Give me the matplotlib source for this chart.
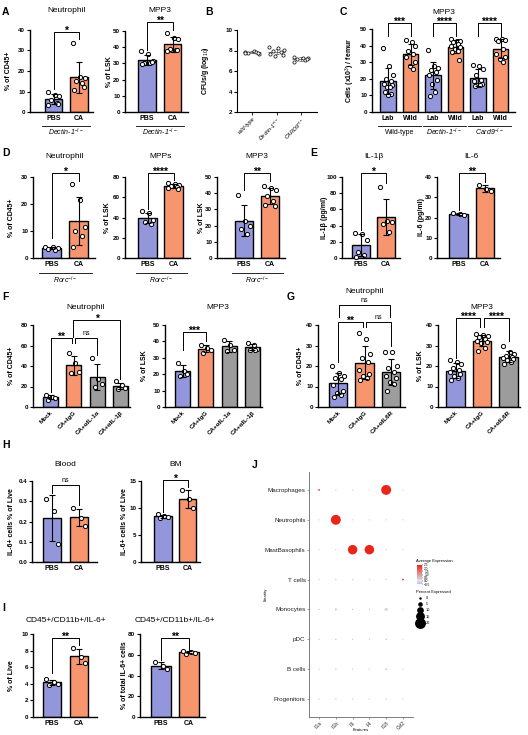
import numpy as np
import matplotlib
matplotlib.use("Agg")
import matplotlib.pyplot as plt
import matplotlib.transforms as mtransforms
from matplotlib.colors import LinearSegmentedColormap

plt.rcParams["font.family"] = ["Liberation Sans", "DejaVu Sans"]
plt.rcParams["mathtext.fontset"] = "custom"
plt.rcParams["mathtext.rm"] = "Liberation Sans"
plt.rcParams["mathtext.it"] = "Liberation Sans:italic"
plt.rcParams["mathtext.bf"] = "Liberation Sans:bold"

BLUE = "#9396db"
ORANGE = "#f6956e"
GREY = "#9c9c9c"

DECTIN = r"Dectin-1$^{-/-}$"
CARD9 = r"Card9$^{-/-}$"
RORC = r"Rorc$^{-/-}$"

# ---- data ----
# A
a_neut_pbs = [9.8, 8.5, 7.9, 6.0, 4.5, 3.2, 4.0]
a_neut_ca = [33.5, 17, 16.5, 15, 14, 10.5, 12]
a_mpp3_pbs = [37.5, 36, 31.5, 30.5, 30, 29.5, 31]
a_mpp3_ca = [49, 45.5, 45, 39, 38, 37.5, 38]
# B
b_labels = ["wild-type", r"Dectin-1$^{-/-}$", r"CARD9$^{-/-}$"]
b_wt = [7.9, 8.0, 7.7, 7.8, 7.85, 7.75, 7.8]
b_dectin = [8.3, 8.2, 8.05, 7.95, 7.9, 7.7, 7.6, 7.5]
b_card9 = [7.35, 7.3, 7.25, 7.2, 7.1, 6.85, 7.2]
# C
c_labels = ["Lab", "Wild"] * 3
c_groups_names = ["Wild-type", DECTIN, CARD9]
c_lab_wt = [38.5, 27.5, 22, 20, 18.5, 17, 16, 15, 15, 12, 11, 10.5]
c_wild_wt = [43.5, 42, 40, 37, 35, 33, 30, 27.5, 26]
c_lab_dectin = [37.5, 27.5, 26.5, 25.5, 24, 22, 19.5, 17, 12, 9.5]
c_wild_dectin = [44, 43, 42.5, 42, 41, 40, 39, 38, 37, 36, 31.5]
c_lab_card9 = [28.5, 27.5, 26, 22, 19, 18.5, 17, 16.5, 16, 15.5]
c_wild_card9 = [44, 44, 43.5, 43, 38, 35, 33, 32, 30]
# D
d_neut_pbs = [4.2, 3.9, 3.6, 3.4, 3.1]
d_neut_ca = [27.4, 21.5, 11.5, 10, 8, 4.2]
d_mpps_pbs = [46, 44, 38, 36, 34]
d_mpps_ca = [74.5, 73, 72, 71.5, 70.5, 69, 68.5]
d_mpp3_pbs = [39, 23, 20, 18, 15]
d_mpp3_ca = [44.5, 43.5, 42, 38, 35, 33, 32]
# E
e_il1b_pbs = [31, 30, 22, 8, 4, 1]
e_il1b_ca = [88, 46, 45, 42, 32]
e_il6_pbs = [22, 21.5, 21]
e_il6_ca = [36, 34, 33]
# F
f_labels = ["Mock", "CA+IgG", "CA+αIL-1α", "CA+αIL-1β"]
f_neut = [[12, 10, 9, 7], [53, 43, 34, 33], [48, 27, 22, 20], [25, 21, 19, 18]]
f_mpp3 = [[27, 22, 20, 19], [38, 36, 35, 33], [41, 38, 35, 34], [39, 38, 35.5, 35, 35]]
# G
g_labels = ["Mock", "CA+IgG", "CA+αIL6R"]
g_neut = [[20, 16.5, 15, 14, 13.5, 10.5, 8, 7, 6, 5],
          [36, 33, 26, 24, 22, 18, 16, 15, 14, 13],
          [27, 27, 20, 19, 17, 15, 14, 12, 11, 8]]
g_mpp3 = [[23, 22, 21, 19, 18, 17, 16, 15, 14, 13],
          [35.5, 35, 34.5, 34, 33, 32, 31.5, 31, 29, 27.5],
          [30, 27, 26, 25, 24.5, 24, 23.5, 23, 22, 21]]
# H
h_blood_pbs = [0.31, 0.25, 0.09]
h_blood_ca = [0.265, 0.215, 0.18]
h_bm_pbs = [8.8, 8.5, 8.4, 8.2]
h_bm_ca = [13.3, 11.6, 10.0]
# I
i_live_pbs = [4.6, 4.2, 4.0, 3.9]
i_live_ca = [8.3, 7.2, 6.5]
i_total_pbs = [53, 49, 46]
i_total_ca = [63.5, 63, 62, 61]
# J
j_cells = ["Macrophages", "Neutrophils", "MastBasophils", "T cells",
           "Monocytes", "pDC", "B cells", "Progenitors"]
j_features = ["Il1a", "Il1b", "Il6", "Il4", "Il18", "Csf2"]
j_pct = [[1.5, 0.5, 0.3, 0.3, 21, 0.3],
         [0.3, 21, 0.3, 0.3, 1.0, 0.3],
         [0.3, 0.5, 20, 20, 0.8, 0.3],
         [0.5, 1.2, 0.5, 0.5, 0.8, 1.5],
         [0.8, 2.0, 0.8, 0.8, 5.0, 0.5],
         [0.5, 1.0, 0.8, 0.5, 1.5, 0.3],
         [0.5, 1.0, 0.5, 0.5, 1.8, 0.5],
         [0.5, 1.0, 0.5, 0.5, 1.0, 0.5]]
j_avg = [[2.5, -0.3, -0.3, -0.3, 2.5, -0.3],
         [-0.3, 2.5, -0.3, -0.3, 0.0, -0.3],
         [-0.3, -0.3, 2.5, 2.5, -0.2, -0.3],
         [-0.3, -0.2, -0.3, -0.3, -0.2, 2.5],
         [-0.3, -0.5, -0.3, -0.3, 0.2, -0.3],
         [-0.3, -0.3, -0.3, -0.3, -0.3, -0.3],
         [-0.3, -0.3, -0.3, -0.3, -0.4, -0.3],
         [-0.3, -0.3, -0.3, -0.3, -0.3, -0.3]]
j_size_levels = [0, 5, 10, 15, 20]

W, H = 528, 735
fig = plt.figure(figsize=(W / 100, H / 100), dpi=100)
fig.patch.set_facecolor("white")

JITTER = np.array([-1, 0.25, 1, -0.5, 0.6, -0.9, 0.85, -0.2, 0.45, -0.7, 0.7, 0.0])


def spread(n, w=0.22):
    return JITTER[:n] * w


def px_ax(spine, top, bottom, right):
    return fig.add_axes([spine / W, 1 - bottom / H, (right - spine) / W, (bottom - top) / H])


def style_axis(ax, yticks, fmt=None):
    for s in ["top", "right"]:
        ax.spines[s].set_visible(False)
    for s in ["left", "bottom"]:
        ax.spines[s].set_linewidth(1.0)
    ax.set_yticks(yticks)
    if fmt:
        ax.set_yticklabels([fmt.format(t) for t in yticks])
    ax.tick_params(axis="y", length=2.5, width=0.8, pad=1, labelsize=4.5)
    ax.tick_params(axis="x", length=0, pad=2, labelsize=5)
    for lbl in ax.get_yticklabels():
        lbl.set_fontweight("bold")


def bracket(ax, x0, x1, y, y0, y1, text):
    ax.plot([x0, x0, x1, x1], [y0, y, y, y1], color="black", lw=0.7, clip_on=False, zorder=5)
    if text == "ns":
        ax.annotate(text, ((x0 + x1) / 2, y), xytext=(0, 0.6), textcoords="offset points",
                    ha="center", va="bottom", fontsize=5, annotation_clip=False)
    else:
        ax.annotate(text, ((x0 + x1) / 2, y), xytext=(0, -1.4), textcoords="offset points",
                    ha="center", va="baseline", fontsize=7.5, fontweight="bold",
                    annotation_clip=False)


def group_label(ax, x0, x1, geom, line_y, text_y, text, italic=True):
    spine, top, bottom = geom[:3]
    f = lambda y: (bottom - y) / (bottom - top)
    tr = mtransforms.blended_transform_factory(ax.transData, ax.transAxes)
    ax.plot([x0, x1], [f(line_y), f(line_y)], color="black", lw=0.6, transform=tr, clip_on=False)
    ax.text((x0 + x1) / 2, f(text_y), text, transform=tr, ha="center", va="center",
            fontsize=5, style="italic" if italic else "normal")


def bar_panel(geom, groups, colors, ylim, yticks, xlabels, ylabel, ylabel_x,
              title=None, title_y=None, brackets=(), width=0.7, rotate=False, fmt=None):
    spine, top, bottom, right, c0, sp = geom
    ax = px_ax(spine, top, bottom, right)
    x = np.arange(len(groups))
    means = [np.mean(g) for g in groups]
    sds = [np.std(g, ddof=1) for g in groups]
    ax.bar(x, means, width=width, color=colors, edgecolor="black", linewidth=1.0, zorder=2)
    ax.errorbar(x, means, yerr=sds, fmt="none", ecolor="black", elinewidth=0.8,
                capsize=2.5, capthick=0.8, zorder=4)
    for i, g in enumerate(groups):
        ax.plot(i + spread(len(g), width * 0.32), g, "o", ms=3, mfc="white", mec="black",
                mew=0.7, zorder=3, clip_on=False)
    ax.set_xlim((spine - c0) / sp, (right - c0) / sp)
    ax.set_ylim(*ylim)
    style_axis(ax, yticks, fmt)
    ax.set_xticks(x)
    if rotate:
        ax.set_xticklabels(xlabels, rotation=45, ha="right", rotation_mode="anchor",
                           fontsize=4.5, fontweight="bold")
    else:
        ax.set_xticklabels(xlabels, fontweight="bold")
    ax.set_ylabel(ylabel, fontsize=5, fontweight="bold")
    ax.yaxis.set_label_coords((ylabel_x - spine) / (right - spine), 0.5)
    if title:
        tr = mtransforms.blended_transform_factory(ax.transData, ax.transAxes)
        ax.text(np.mean(x), (bottom - title_y) / (bottom - top), title, transform=tr,
                ha="center", va="center", fontsize=6)
    for b in brackets:
        bracket(ax, *b)
    return ax


def letter(x, y, s):
    fig.text(x / W, 1 - y / H, s, fontsize=7.5, fontweight="bold", ha="left", va="center")


# ---------------- A ----------------
letter(2, 12, "A")
g = (30, 30, 112, 93, 53.5, 25.5)
ax = bar_panel(g, [a_neut_pbs, a_neut_ca], [BLUE, ORANGE], (0, 40), [0, 10, 20, 30, 40],
               ["PBS", "CA"], "% of CD45+", 12, "Neutrophil", 10,
               [(0, 1, 39, 11, 35.5, "*")])
group_label(ax, -0.45, 1.45, g, 126, 132, DECTIN)
g = (125, 31, 112, 188, 147, 25.5)
ax = bar_panel(g, [a_mpp3_pbs, a_mpp3_ca], [BLUE, ORANGE], (0, 50), [0, 10, 20, 30, 40, 50],
               ["PBS", "CA"], "% of LSK", 113, "MPP3", 10,
               [(0, 1, 55.5, 38.5, 50.5, "**")])
group_label(ax, -0.45, 1.45, g, 126, 132, DECTIN)

# ---------------- B ----------------
letter(205, 12, "B")
ax = px_ax(237, 30, 112, 317)
for i, vals in enumerate([b_wt, b_dectin, b_card9]):
    m, s = np.mean(vals), np.std(vals, ddof=1)
    ax.plot(i + spread(len(vals), 0.3), vals, "o", ms=2.3, mfc="white", mec="black", mew=0.5, zorder=3)
    ax.hlines(m, i - 0.35, i + 0.35, color="#555555", lw=0.5, zorder=2)
    ax.errorbar(i, m, yerr=s, fmt="none", ecolor="#555555", elinewidth=0.5, capsize=1.5,
                capthick=0.5, zorder=2)
ax.set_xlim((237 - 252) / 24.5, (317 - 252) / 24.5)
ax.set_ylim(2, 10)
style_axis(ax, [2, 4, 6, 8, 10])
ax.spines["left"].set_linewidth(0.8)
ax.spines["bottom"].set_linewidth(0.8)
ax.set_xticks(range(3))
ax.set_xticklabels(b_labels, rotation=45, ha="right", rotation_mode="anchor", fontsize=4,
                   style="italic")
ax.tick_params(axis="x", length=2, width=0.6, pad=1)
ax.set_ylabel(r"CFUs/g (log$_{10}$)", fontsize=5, fontweight="bold")
ax.yaxis.set_label_coords((211 - 237) / 80, 0.5)

# ---------------- C ----------------
letter(340, 12, "C")
g = (372, 29, 112, 515, 388, 22.5)
ax = bar_panel(g, [c_lab_wt, c_wild_wt, c_lab_dectin, c_wild_dectin, c_lab_card9, c_wild_card9],
               [BLUE, ORANGE] * 3, (0, 50), [0, 10, 20, 30, 40, 50], c_labels,
               r"Cells (x10$^{3}$) / femur", 357, "MPP3", 12,
               [(0, 1, 53.6, 46, 46, "***"), (2, 3, 53.6, 46, 46, "****"),
                (4, 5, 53.6, 46, 46, "****")], width=0.68)
for k, name in enumerate(c_groups_names):
    group_label(ax, 2 * k - 0.45, 2 * k + 1.45, g, 126, 132, name, italic=(k > 0))

# ---------------- D ----------------
letter(2, 153, "D")
g = (33, 177, 258, 95, 51.5, 27)
ax = bar_panel(g, [d_neut_pbs, d_neut_ca], [BLUE, ORANGE], (0, 30), [0, 10, 20, 30],
               ["PBS", "CA"], "% of CD45+", 15, "Neutrophil", 157,
               [(0, 1, 31.5, 7.4, 28.5, "*")])
group_label(ax, -0.45, 1.5, g, 273, 280, RORC)
g = (125, 177, 258, 190, 147.5, 26)
ax = bar_panel(g, [d_mpps_pbs, d_mpps_ca], [BLUE, ORANGE], (0, 80), [0, 20, 40, 60, 80],
               ["PBS", "CA"], "% of LSK", 111, "MPPs", 157,
               [(0, 1, 84, 48.5, 77, "****")])
group_label(ax, -0.45, 1.5, g, 273, 280, RORC)
g = (217, 177, 258, 285, 244, 26)
ax = bar_panel(g, [d_mpp3_pbs, d_mpp3_ca], [BLUE, ORANGE], (0, 50), [0, 10, 20, 30, 40, 50],
               ["PBS", "CA"], "% of LSK", 205, "MPP3", 157,
               [(0, 1, 52.5, 42, 47.5, "**")])
group_label(ax, -0.45, 1.5, g, 273, 280, RORC)

# ---------------- E ----------------
letter(310, 153, "E")
g = (342, 177, 258, 400, 361, 25)
bar_panel(g, [e_il1b_pbs, e_il1b_ca], [BLUE, ORANGE], (0, 100), [0, 20, 40, 60, 80, 100],
          ["PBS", "CA"], "IL-1β (pg/ml)", 328, "IL-1β", 157,
          [(0, 1, 105, 34.5, 93, "*")])
g = (437, 177, 258, 500, 458.5, 26.5)
bar_panel(g, [e_il6_pbs, e_il6_ca], [BLUE, ORANGE], (0, 40), [0, 10, 20, 30, 40],
          ["PBS", "CA"], "IL-6 (pg/ml)", 425, "IL-6", 157,
          [(0, 1, 42, 23.6, 37.5, "**")])

# ---------------- F ----------------
letter(2, 297, "F")
g = (33, 325, 407, 130, 50.5, 23.3)
bar_panel(g, f_neut, [BLUE, ORANGE, GREY, GREY], (0, 80), [0, 20, 40, 60, 80],
          f_labels, "% of CD45+", 15, "Neutrophil", 307,
          [(0, 0.93, 67, 14.6, 62, "**"), (1.07, 2, 67, 62, 51, "ns"),
           (0.97, 3, 85, 68, 27, "*")], width=0.65, rotate=True)
g = (165, 325, 407, 262, 182.5, 23.3)
bar_panel(g, f_mpp3, [BLUE, ORANGE, GREY, GREY], (0, 50), [0, 10, 20, 30, 40, 50],
          f_labels, "% of LSK", 148, "MPP3", 307,
          [(0, 1, 46, 35, 40, "***")], width=0.65, rotate=True)

# ---------------- G ----------------
letter(287, 297, "G")
g = (318, 325, 407, 405, 338, 26.5)
bar_panel(g, g_neut, [BLUE, ORANGE, GREY], (0, 40), [0, 10, 20, 30, 40],
          g_labels, "% of CD45+", 304, "Neutrophil", 291,
          [(0, 0.93, 41.6, 22, 39, "**"), (1.07, 2, 41.6, 39, 30, "ns"),
           (0.05, 1.97, 50, 44, 44, "ns")], width=0.68, rotate=True)
g = (438, 325, 407, 520, 455.5, 26.5)
bar_panel(g, g_mpp3, [BLUE, ORANGE, GREY], (0, 40), [0, 10, 20, 30, 40],
          g_labels, "% of LSK", 424, "MPP3", 307,
          [(0, 0.93, 43.4, 24, 39, "****"), (1.07, 2, 43.4, 39, 32, "****")],
          width=0.68, rotate=True)

# ---------------- H ----------------
letter(2, 445, "H")
g = (32, 481, 562, 97, 52, 27)
bar_panel(g, [h_blood_pbs, h_blood_ca], [BLUE, ORANGE], (0, 0.4), [0, 0.1, 0.2, 0.3, 0.4],
          ["PBS", "CA"], "IL-6+ cells % of Live", 15, "Blood", 465,
          [(0, 1, 0.38, 0.34, 0.28, "ns")], fmt="{:.1f}")
g = (141, 481, 562, 200, 163, 24.5)
bar_panel(g, [h_bm_pbs, h_bm_ca], [BLUE, ORANGE], (0, 15), [0, 5, 10, 15],
          ["PBS", "CA"], "IL-6+ cells % of Live", 128, "BM", 465,
          [(0, 1, 15.2, 9.3, 13.9, "*")])

# ---------------- I ----------------
letter(2, 608, "I")
g = (33, 634, 717, 97, 52, 27)
bar_panel(g, [i_live_pbs, i_live_ca], [BLUE, ORANGE], (0, 10), [0, 2, 4, 6, 8, 10],
          ["PBS", "CA"], "% of Live", 15, "CD45+/CD11b+/IL-6+", 620,
          [(0, 1, 9.5, 5.3, 8.7, "**")])
g = (140, 634, 717, 205, 161, 28)
bar_panel(g, [i_total_pbs, i_total_ca], [BLUE, ORANGE], (0, 80), [0, 20, 40, 60, 80],
          ["PBS", "CA"], "% of total IL-6+ cells", 128, "CD45+/CD11b+/IL-6+", 620,
          [(0, 1, 76, 55, 64.5, "**")])

# ---------------- J ----------------
letter(252, 465, "J")
ax = px_ax(309, 472, 717, 413)
cmap = LinearSegmentedColormap.from_list(
    "avgexp", [(0.0, "#c6b9ef"), (0.17, "#e4e0ea"), (1.0, "#e8271a")])


def dot_size(p):
    d_px = 0.42 * p + 1.1
    return (d_px * 0.72) ** 2


nrow = len(j_cells)
xs, ys, ss, cs = [], [], [], []
for r, cell in enumerate(j_cells):
    for c, feat in enumerate(j_features):
        xs.append(c + 1)
        ys.append(nrow - r)
        ss.append(dot_size(j_pct[r][c]))
        cs.append(j_avg[r][c])
sc = ax.scatter(xs, ys, s=ss, c=cs, cmap=cmap, vmin=-0.5, vmax=2.5, linewidths=0, zorder=3)
ax.set_xlim(0.4, 6.6)
ax.set_ylim(0.4, nrow + 0.6)
ax.set_yticks(range(nrow, 0, -1))
ax.set_yticklabels(j_cells, fontsize=4.5, color="#222222")
ax.set_xticks(range(1, 7))
ax.set_xticklabels(j_features, rotation=45, ha="right", rotation_mode="anchor",
                   fontsize=3.5, color="#222222")
ax.tick_params(length=1.5, width=0.4, color="#555555", pad=1)
for s in ["top", "right"]:
    ax.spines[s].set_visible(False)
for s in ["left", "bottom"]:
    ax.spines[s].set_linewidth(0.6)
    ax.spines[s].set_color("#666666")
ax.set_ylabel("Identity", fontsize=3)
ax.yaxis.set_label_coords((268 - 309) / 104, 0.5)
ax.text(0.5, (717 - 730) / 245, "Features", transform=ax.transAxes, fontsize=3,
        ha="center", va="center")

fig.text(416 / W, 1 - 561 / H, "Average Expression", fontsize=3, va="center", ha="left")
cax = fig.add_axes([417 / W, 1 - 584 / H, 5 / W, 19 / H])
cb = fig.colorbar(sc, cax=cax, ticks=[-0.5, 0, 0.5, 1.0, 1.5, 2.0, 2.5])
cb.outline.set_visible(False)
cb.ax.tick_params(labelsize=2.3, length=0.8, width=0.3, pad=0.8)

handles = [plt.scatter([], [], s=dot_size(p), color="black") for p in j_size_levels]
fig.legend(handles, [str(p) for p in j_size_levels], title="Percent Expressed",
           loc="upper left", bbox_to_anchor=(414 / W, 1 - 588 / H), frameon=False,
           fontsize=2.8, title_fontsize=3, labelspacing=0.55, handletextpad=0.6,
           borderpad=0, alignment="left")

fig.savefig("out.png", dpi=100, facecolor="white")
